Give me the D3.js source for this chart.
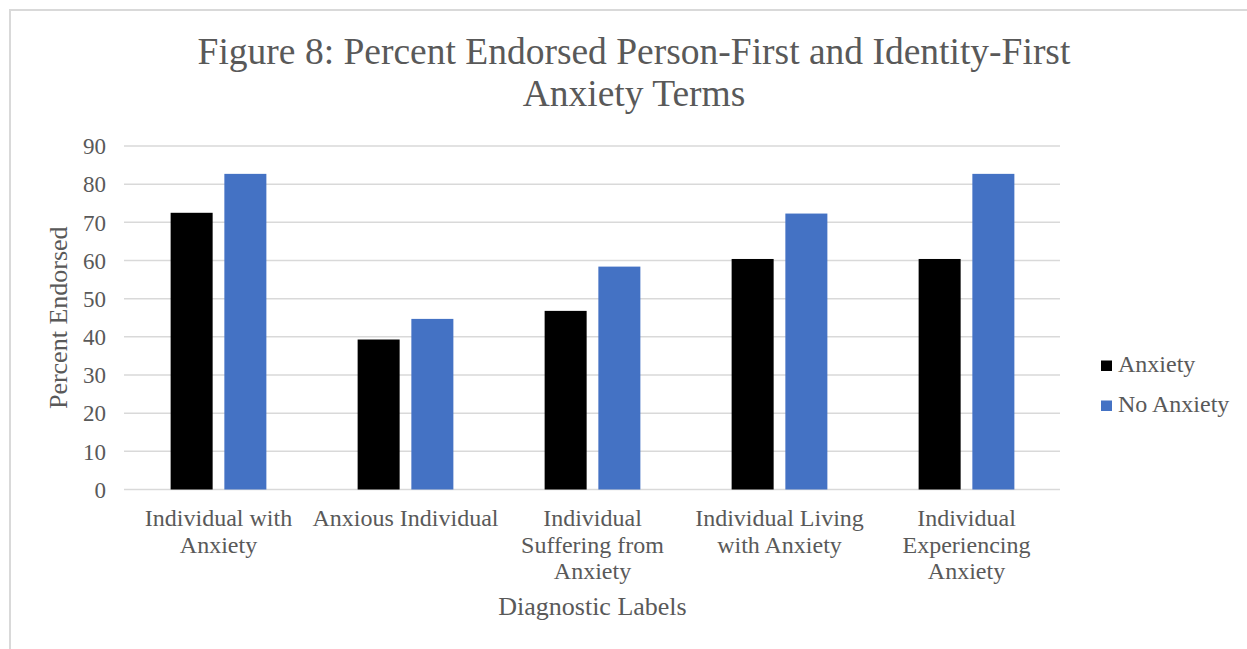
<!DOCTYPE html>
<html>
<head>
<meta charset="utf-8">
<script src="https://cdn.jsdelivr.net/npm/d3@7"></script>
<style>
  body { margin: 0; background: #fff; }
  text { font-family: "Liberation Serif", "Times New Roman", serif; fill: #595959; }
</style>
</head>
<body>
<svg id="chart"></svg>
<script>
// data
const categories = [
    ["Individual with", "Anxiety"],
    ["Anxious Individual"],
    ["Individual", "Suffering from", "Anxiety"],
    ["Individual Living", "with Anxiety"],
    ["Individual", "Experiencing", "Anxiety"]
];
const seriesNames = ["Anxiety", "No Anxiety"];
const anxietyValues = [72.5, 39.3, 46.8, 60.4, 60.4];
const noAnxietyValues = [82.7, 44.7, 58.4, 72.3, 82.7];
const yTicks = [0, 10, 20, 30, 40, 50, 60, 70, 80, 90];
const colors = ["#000000", "#4472c4"];

const width = 1247, height = 649;
const margin = {left: 125, right: 187, top: 146, bottom: 159.5};

const svg = d3.select("#chart")
    .attr("width", width)
    .attr("height", height);

// chart border (top and left edge visible)
svg.append("path")
    .attr("d", `M10,${height} L10,10 L${width},10`)
    .attr("fill", "none")
    .attr("stroke", "#d9d9d9")
    .attr("stroke-width", 2);

// title
svg.append("text")
    .attr("x", 634).attr("y", 64)
    .attr("text-anchor", "middle")
    .attr("font-size", "37.5px")
    .text("Figure 8: Percent Endorsed Person-First and Identity-First");
svg.append("text")
    .attr("x", 634).attr("y", 106)
    .attr("text-anchor", "middle")
    .attr("font-size", "37.5px")
    .text("Anxiety Terms");

const keys = categories.map((c, i) => i);

// scales
const x0 = d3.scaleBand()
    .domain(keys)
    .range([margin.left, width - margin.right])
    .paddingInner(0.488)
    .paddingOuter(0.244);

const x1 = d3.scaleBand()
    .domain(seriesNames)
    .range([0, x0.bandwidth()])
    .paddingInner(0.218);

const y = d3.scaleLinear()
    .domain([0, 90])
    .range([height - margin.bottom, margin.top]);

// gridlines
svg.append("g")
    .selectAll("line")
    .data(yTicks)
    .join("line")
    .attr("x1", margin.left - 1)
    .attr("x2", width - margin.right)
    .attr("y1", d => y(d))
    .attr("y2", d => y(d))
    .attr("stroke", "#d9d9d9")
    .attr("stroke-width", 1.5);

// y axis labels
const axisY = d3.axisLeft(y).tickValues(yTicks).tickSize(0).tickPadding(0);
const gy = svg.append("g")
    .attr("transform", `translate(106,0)`)
    .call(axisY);
gy.select(".domain").remove();
gy.selectAll("text")
    .attr("font-size", "23px")
    .attr("font-family", "Liberation Serif")
    .attr("fill", "#595959")
    .attr("dy", "0.34em");

// bars
const rows = keys.map(i => ({i: i, values: [anxietyValues[i], noAnxietyValues[i]]}));
const groups = svg.append("g")
    .selectAll("g")
    .data(rows)
    .join("g")
    .attr("transform", d => `translate(${x0(d.i)},0)`);

groups.selectAll("rect")
    .data(d => d.values.map((v, k) => ({name: seriesNames[k], value: v, k: k})))
    .join("rect")
    .attr("x", d => x1(d.name))
    .attr("width", x1.bandwidth())
    .attr("y", d => y(d.value))
    .attr("height", d => y(0) - y(d.value))
    .attr("fill", d => colors[d.k]);

// x axis category labels
const labels = svg.append("g")
    .selectAll("text")
    .data(keys)
    .join("text")
    .attr("x", d => x0(d) + x0.bandwidth() / 2)
    .attr("y", 526)
    .attr("text-anchor", "middle")
    .attr("font-size", "24px");
labels.selectAll("tspan")
    .data(d => categories[d])
    .join("tspan")
    .attr("x", function () { return d3.select(this.parentNode).attr("x"); })
    .attr("dy", (d, i) => i === 0 ? 0 : 26.5)
    .text(d => d);

// axis titles
svg.append("text")
    .attr("x", (margin.left + width - margin.right) / 2)
    .attr("y", 615)
    .attr("text-anchor", "middle")
    .attr("font-size", "26px")
    .text("Diagnostic Labels");

svg.append("text")
    .attr("transform", `translate(67, ${(y(0) + y(90)) / 2}) rotate(-90)`)
    .attr("text-anchor", "middle")
    .attr("font-size", "26px")
    .text("Percent Endorsed");

// legend
const legend = svg.append("g")
    .selectAll("g")
    .data(seriesNames)
    .join("g")
    .attr("transform", (d, i) => `translate(1101, ${360.5 + i * 40})`);
legend.append("rect")
    .attr("width", 11)
    .attr("height", 10.5)
    .attr("fill", (d, i) => colors[i]);
legend.append("text")
    .attr("x", 17)
    .attr("y", 11)
    .attr("font-size", "24px")
    .text(d => d);
</script>
</body>
</html>
